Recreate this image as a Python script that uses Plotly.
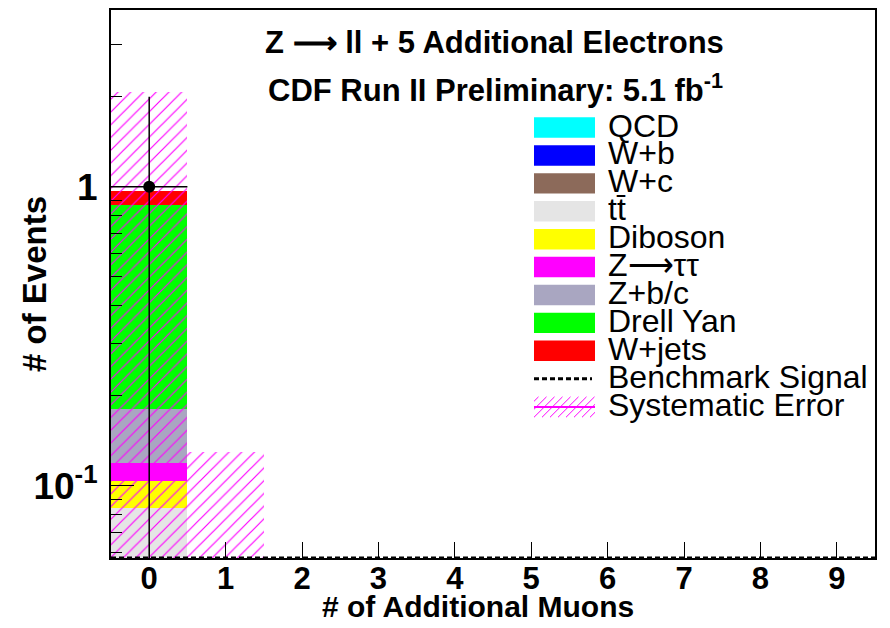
import plotly.graph_objects as go
import numpy as np

# ---------------- data ----------------
bins = list(range(10))
labels = ["QCD", "W+b", "W+c", "tt\u0304", "Diboson", "Z\u27f6\u03c4\u03c4", "Z+b/c", "Drell Yan", "W+jets"]
colors = ["#00FFFF", "#0000FF", "#8C6A5A", "#E5E5E5", "#FFFF00", "#FF00FF", "#A9A6C1", "#00FF00", "#FF0000"]

qcd     = [0, 0, 0, 0, 0, 0, 0, 0, 0, 0]
wb      = [0, 0, 0, 0, 0, 0, 0, 0, 0, 0]
wc      = [0, 0, 0, 0, 0, 0, 0, 0, 0, 0]
ttbar   = [0.084, 0, 0, 0, 0, 0, 0, 0, 0, 0]
diboson = [0.0195, 0, 0, 0, 0, 0, 0, 0, 0, 0]
ztautau = [0.0155, 0, 0, 0, 0, 0, 0, 0, 0, 0]
zbc     = [0.062, 0, 0, 0, 0, 0, 0, 0, 0, 0]
dy      = [0.685, 0, 0, 0, 0, 0, 0, 0, 0, 0]
wjets   = [0.104, 0, 0, 0, 0, 0, 0, 0, 0, 0]
signal  = [0, 0, 0, 0, 0, 0, 0, 0, 0, 0]
syst_err = [1.10, 0.130, 0, 0, 0, 0, 0, 0, 0, 0]
data     = [1, 0, 0, 0, 0, 0, 0, 0, 0, 0]
data_err = [1, 0, 0, 0, 0, 0, 0, 0, 0, 0]

y_min, y_max = 0.0573, 3.90
xticks = bins
yticks = [0.1, 1]
yticktext = ["10<sup>-1</sup>", "1"]
yminor = [0.06, 0.07, 0.08, 0.09, 0.2, 0.3, 0.4, 0.5, 0.6, 0.7, 0.8, 0.9, 2, 3]

# ---------------- geometry ----------------
W, H = 890, 628
L, R, T, B = 111, 15, 8, 70
pw, ph = W - L - R, H - T - B

def px(x):
    return (x - L) / pw

def py(y):
    return (H - B - y) / ph

FONT = "Liberation Sans, Arial, sans-serif"

fig = go.Figure()

# stacked backgrounds drawn as cumulative overlays (bottom component = ttbar)
stack_order = [ttbar, diboson, ztautau, zbc, dy, wjets]
stack_cols = colors[3:]
cum = np.zeros(len(bins))
cums = []
for comp in stack_order:
    cum = cum + np.array(comp)
    cums.append(cum.copy())
for comp in [wc, wb, qcd]:
    cum = cum + np.array(comp)
total = cum

for c, col in reversed(list(zip(cums, stack_cols))):
    xs = [b for b, v in zip(bins, c) if v > 0]
    ys = [v for v in c if v > 0]
    fig.add_trace(go.Bar(x=xs, y=ys, width=1.0, marker=dict(color=col, line=dict(width=0)),
                         showlegend=False, hoverinfo="skip"))

# systematic error hatch
hatch_top = total + np.array(syst_err)
xs = [b for b, v in zip(bins, hatch_top) if v > 0]
ys = [v for v in hatch_top if v > 0]
fig.add_trace(go.Bar(x=xs, y=ys, width=1.0,
                     marker=dict(color="rgba(0,0,0,0)", line=dict(width=0),
                                 pattern=dict(shape="/", fgcolor="#FF00FF", bgcolor="rgba(0,0,0,0)",
                                              fgopacity=1, size=9, solidity=0.13, fillmode="overlay")),
                     showlegend=False, hoverinfo="skip"))

# benchmark signal (zero everywhere -> sits on axis floor)
sig_y = np.maximum(np.array(signal, dtype=float), y_min)
fig.add_trace(go.Scatter(x=[-0.5] + bins + [9.5], y=[sig_y[0]] + list(sig_y) + [sig_y[-1]],
                         mode="lines", line=dict(color="black", width=3, dash="5px,3px", shape="hvh"),
                         cliponaxis=False, showlegend=False, hoverinfo="skip"))

# data
dx = [b for b, v in zip(bins, data) if v > 0]
dyv = [v for v in data if v > 0]
de = [e for e, v in zip(data_err, data) if v > 0]
fig.add_trace(go.Scatter(x=dx, y=dyv, mode="markers",
                         marker=dict(color="black", size=12),
                         error_y=dict(type="data", array=de, arrayminus=de, color="black", thickness=1.5, width=0),
                         error_x=dict(type="constant", value=0.5, color="black", thickness=1.5, width=0),
                         showlegend=False, hoverinfo="skip"))

# ---------------- manual legend ----------------
shapes = []
annots = []
row_y = [126, 154, 182, 210, 238, 266, 294, 322, 350, 378, 406.5]
bx0, bx1, bh = 534, 595, 20.5
tx = 606
for i, (lab, col) in enumerate(zip(labels, colors)):
    yc = row_y[i]
    shapes.append(dict(type="rect", xref="paper", yref="paper",
                       x0=px(bx0), x1=px(bx1), y0=py(yc + bh / 2), y1=py(yc - bh / 2),
                       fillcolor=col, line=dict(width=0), layer="above"))
leg_texts = labels + ["Benchmark Signal", "Systematic Error"]
for i, lab in enumerate(leg_texts):
    annots.append(dict(text=lab, x=px(tx), y=py(row_y[i] - 2), xref="paper", yref="paper",
                       xanchor="left", yanchor="middle", showarrow=False,
                       font=dict(family=FONT, size=32, color="black")))
# dashed key
shapes.append(dict(type="line", xref="paper", yref="paper", x0=px(534), x1=px(592),
                   y0=py(row_y[9]), y1=py(row_y[9]), line=dict(color="black", width=3, dash="5px,3px")))
# hatch key
yc = row_y[10]
ytop, ybot = yc - bh / 2, yc + bh / 2
hgt = ybot - ytop
for k in range(-3, 10):
    x0 = bx0 + k * 8
    t0 = max(0, bx0 - x0)
    t1 = min(hgt, bx1 - x0)
    if t1 > t0:
        shapes.append(dict(type="line", xref="paper", yref="paper",
                           x0=px(x0 + t0), y0=py(ybot - t0), x1=px(x0 + t1), y1=py(ybot - t1),
                           line=dict(color="#FF00FF", width=1)))
shapes.append(dict(type="line", xref="paper", yref="paper", x0=px(bx0), x1=px(bx1),
                   y0=py(yc), y1=py(yc), line=dict(color="#FF00FF", width=2)))

# titles
annots.append(dict(text="<b>Z \u27f6 ll + 5 Additional Electrons</b>", x=px(494), y=py(41),
                   xref="paper", yref="paper", xanchor="center", yanchor="middle", showarrow=False,
                   font=dict(family=FONT, size=31, color="black")))
annots.append(dict(text="<b>CDF Run II Preliminary: 5.1 fb<sup>-1</sup></b>", x=px(495), y=py(86),
                   xref="paper", yref="paper", xanchor="center", yanchor="middle", showarrow=False,
                   font=dict(family=FONT, size=31, color="black")))
# axis titles
annots.append(dict(text="<b># of Additional Muons</b>", x=px(478), y=py(607),
                   xref="paper", yref="paper", xanchor="center", yanchor="middle", showarrow=False,
                   font=dict(family=FONT, size=30, color="black")))
annots.append(dict(text="<b># of Events</b>", x=px(34), y=py(283), textangle=-90,
                   xref="paper", yref="paper", xanchor="center", yanchor="middle", showarrow=False,
                   font=dict(family=FONT, size=33, color="black")))

fig.update_layout(
    width=W, height=H, margin=dict(l=L, r=R, t=T, b=B),
    paper_bgcolor="white", plot_bgcolor="white",
    barmode="overlay", bargap=0, showlegend=False,
    shapes=shapes, annotations=annots,
    xaxis=dict(range=[-0.5, 9.5], tickvals=xticks, ticks="inside", ticklen=16, tickwidth=1.2,
               tickcolor="black", showline=True, linecolor="black", linewidth=2, mirror=True,
               showgrid=False, zeroline=False,
               tickfont=dict(family=FONT, size=31, color="black", weight="bold"), ticklabelstandoff=-8),
    yaxis=dict(type="log", range=[np.log10(y_min), np.log10(y_max)], tickvals=yticks, ticktext=yticktext,
               ticks="inside", ticklen=23, tickwidth=1.2, tickcolor="black",
               minor=dict(tickvals=yminor, ticks="inside", ticklen=11, tickwidth=1.2, tickcolor="black"),
               showline=True, linecolor="black", linewidth=2, mirror=True,
               showgrid=False, zeroline=False,
               tickfont=dict(family=FONT, size=37, color="black", weight="bold"), ticklabelstandoff=4),
)

fig.write_html("out.html")
